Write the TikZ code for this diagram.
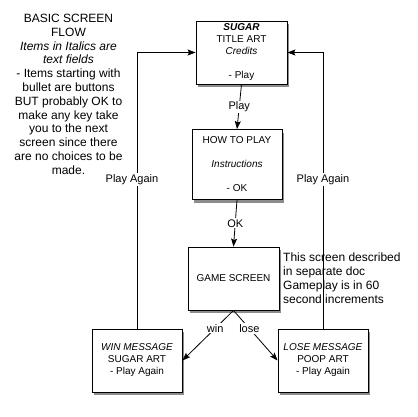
\documentclass[tikz,border=0pt]{standalone}
\usepackage{fontspec}
\setmainfont{Liberation Sans}
\usetikzlibrary{arrows.meta}
\usetikzlibrary{shadows}

\begin{document}
\begin{tikzpicture}[x=1pt,y=-1pt,
 screen/.style={draw=black, line width=.9pt, fill=white, minimum width=90, minimum height=63, inner sep=0, align=center, font=\fontsize{10}{12}\selectfont, drop shadow={shadow xshift=2pt, shadow yshift=-3pt, opacity=.45, fill=black}},
 flow/.style={black, line width=.8pt, ->, >={Stealth[length=8pt, width=6pt, inset=1.5pt]}},
 lbl/.style={fill=white, inner sep=1, font=\fontsize{11}{13}\selectfont}]
\useasboundingbox (0,0) rectangle (418,416);
% screens
\node[screen, minimum width=91] (title) at (241.5,52.5) {\textbf{\textit{SUGAR}}\\TITLE ART\\\textit{Credits}\\[12pt]- Play};
\node[screen, minimum height=70] (how) at (237,164.5) {HOW TO PLAY\\[12pt]\textit{Instructions}\\[12pt]- OK};
\node[screen, minimum width=91] (game) at (233.5,278.5) {GAME SCREEN};
\node[screen] (win) at (137,360.5) {\textit{WIN MESSAGE}\\SUGAR ART\\- Play Again};
\node[screen] (lose) at (323,360.5) {\textit{LOSE MESSAGE}\\POOP ART\\- Play Again};
% notes
\node[anchor=north, align=center, inner sep=0, font=\fontsize{12}{13.8}\selectfont] (legend) at (68.5,14) {BASIC SCREEN\\FLOW\\\textit{Items in Italics are}\\\textit{text fields}\\- Items starting with\\bullet are buttons\\BUT probably OK to\\make any key take\\you to the next\\screen since there\\are no choices to be\\made.};
\node[anchor=north west, align=left, inner sep=0, font=\fontsize{12}{14}\selectfont] (note) at (283,253) {This screen described\\in separate doc\\Gameplay is in 60\\second increments};
% flow
\draw[flow] (title.south) -- node[lbl]{Play} (how.north);
\draw[flow] (how.south) -- node[lbl]{OK} (game.north);
\draw[flow] (game.south) -- node[lbl, pos=.36]{win} (win.east);
\draw[flow] (game.south) -- node[lbl, pos=.36]{lose} (lose.west);
\draw[flow] (win.north) |- node[lbl, pos=.27, xshift=-5]{Play Again} (title.west);
\draw[flow] (lose.north) |- node[lbl, pos=.27]{Play Again} (title.east);
\end{tikzpicture}
\end{document}
